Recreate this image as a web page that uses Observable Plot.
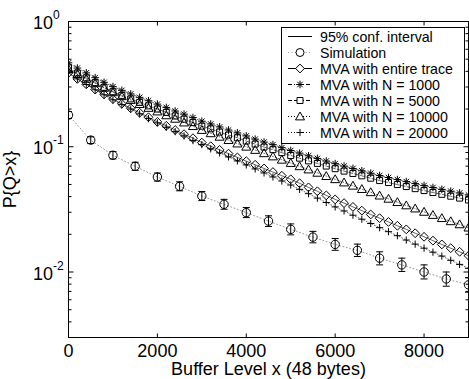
<!DOCTYPE html>
<html><head><meta charset="utf-8">
<script src="https://cdn.jsdelivr.net/npm/d3@7"></script>
<script src="https://cdn.jsdelivr.net/npm/@observablehq/plot@0.6"></script>
<style>
body{margin:0;background:#fff}
#chart{position:relative;width:469px;height:379px;overflow:hidden}
</style>
</head><body><div id="chart"></div>
<script>
// ---------- data ----------
const mvaX = [0,200,400,600,800,1000,1200,1400,1600,1800,2000,2200,2400,2600,2800,3000,3200,3400,3600,3800,4000,4200,4400,4600,4800,5000,5200,5400,5600,5800,6000,6200,6400,6600,6800,7000,7200,7400,7600,7800,8000,8200,8400,8600,8800,9000];
const mvaEntire = [0.389,0.348,0.315,0.286,0.262,0.240,0.220,0.203,0.187,0.172,0.158,0.147,0.136,0.126,0.117,0.108,0.101,0.0944,0.0881,0.0822,0.0767,0.0718,0.0671,0.0628,0.0587,0.0550,0.0511,0.0474,0.0441,0.0409,0.0380,0.0355,0.0331,0.0309,0.0288,0.0269,0.0251,0.0234,0.0219,0.0204,0.0191,0.0178,0.0166,0.0155,0.0145,0.0135];
const mvaN1000 = [0.468,0.425,0.389,0.356,0.327,0.302,0.282,0.264,0.248,0.233,0.219,0.206,0.193,0.182,0.171,0.160,0.152,0.144,0.136,0.129,0.122,0.115,0.109,0.104,0.0984,0.0933,0.0889,0.0847,0.0807,0.0769,0.0733,0.0701,0.0671,0.0643,0.0615,0.0589,0.0568,0.0547,0.0527,0.0508,0.0490,0.0473,0.0457,0.0442,0.0427,0.0412];
const mvaN5000 = [0.427,0.388,0.355,0.325,0.298,0.275,0.257,0.241,0.226,0.212,0.200,0.188,0.176,0.166,0.156,0.146,0.139,0.131,0.124,0.118,0.111,0.105,0.0994,0.0948,0.0897,0.0851,0.0811,0.0772,0.0736,0.0701,0.0668,0.0639,0.0612,0.0586,0.0561,0.0537,0.0518,0.0499,0.0481,0.0463,0.0447,0.0431,0.0417,0.0403,0.0389,0.0376];
const mvaN10000 = [0.417,0.380,0.348,0.321,0.295,0.272,0.253,0.236,0.219,0.204,0.191,0.178,0.167,0.156,0.146,0.136,0.128,0.120,0.113,0.106,0.100,0.0942,0.0887,0.0836,0.0787,0.0741,0.0698,0.0658,0.0619,0.0583,0.0550,0.0518,0.0488,0.0459,0.0433,0.0407,0.0384,0.0361,0.0340,0.0321,0.0302,0.0285,0.0269,0.0254,0.0240,0.0226];
const mvaN20000 = [0.389,0.348,0.314,0.285,0.260,0.237,0.217,0.200,0.183,0.168,0.155,0.143,0.132,0.122,0.112,0.104,0.0962,0.0893,0.0830,0.0771,0.0716,0.0665,0.0618,0.0574,0.0533,0.0495,0.0457,0.0422,0.0389,0.0359,0.0331,0.0307,0.0284,0.0264,0.0244,0.0226,0.0210,0.0195,0.0180,0.0167,0.0155,0.0144,0.0134,0.0124,0.0115,0.0107];

const simX = [0,500,1000,1500,2000,2500,3000,3500,4000,4500,5000,5500,6000,6500,7000,7500,8000,8500,9000];
const simValues = [0.179,0.113,0.0855,0.0698,0.0573,0.0483,0.0404,0.0347,0.0298,0.0255,0.0219,0.0190,0.0166,0.0149,0.0129,0.0114,0.0100,0.0088,0.0079];
const simLow  = [0.168,0.106,0.0799,0.0648,0.0532,0.0445,0.0372,0.0317,0.0272,0.0231,0.0198,0.0171,0.0149,0.0133,0.0114,0.0101,0.0088,0.0077,0.0069];
const simHigh = [0.191,0.120,0.0915,0.0752,0.0617,0.0525,0.0439,0.0380,0.0327,0.0281,0.0242,0.0211,0.0185,0.0167,0.0145,0.0129,0.0114,0.0100,0.0090];

const xTicks = [0,2000,4000,6000,8000];
const xTickLabels = ["0","2000","4000","6000","8000"];
const yTicks = [1,0.1,0.01];
const yTickExp = ["0","-1","-2"];
const yMinorTicks = [0.003,0.004,0.005,0.006,0.007,0.008,0.009,0.02,0.03,0.04,0.05,0.06,0.07,0.08,0.09,0.2,0.3,0.4,0.5,0.6,0.7,0.8,0.9];
const legendLabels = ["95% conf. interval","Simulation","MVA with entire trace","MVA with N = 1000","MVA with N = 5000","MVA with N = 10000","MVA with N = 20000"];
const xLabel = "Buffer Level x (48 bytes)";
const yLabel = "P{Q>x}";

// ---------- symbols ----------
const sym = fn => ({draw(c, size){ const r = Math.sqrt(size/Math.PI); fn(c, r); }});
const diamondSym = sym((c,r)=>{c.moveTo(0,-r);c.lineTo(r,0);c.lineTo(0,r);c.lineTo(-r,0);c.closePath();});
const squareSym = sym((c,r)=>{c.moveTo(-r,-r);c.lineTo(r,-r);c.lineTo(r,r);c.lineTo(-r,r);c.closePath();});
const triangleSym = sym((c,r)=>{c.moveTo(0,-r);c.lineTo(r,0.75*r);c.lineTo(-r,0.75*r);c.closePath();});
const plusSym = sym((c,r)=>{c.moveTo(-r,0);c.lineTo(r,0);c.moveTo(0,-r);c.lineTo(0,r);});
const starSym = sym((c,r)=>{const k=0.72*r;c.moveTo(-r,0);c.lineTo(r,0);c.moveTo(0,-r);c.lineTo(0,r);c.moveTo(-k,-k);c.lineTo(k,k);c.moveTo(-k,k);c.lineTo(k,-k);});
const circleSym = sym((c,r)=>{c.moveTo(r,0);c.arc(0,0,r,0,2*Math.PI);c.closePath();});
const capSym = sym((c,r)=>{c.moveTo(-r,0);c.lineTo(r,0);});

const seriesDefs = [
  {values: mvaEntire, symbol: diamondSym, r: 4.4, dash: null},
  {values: mvaN1000, symbol: starSym, r: 3.8, dash: "4,2,1,2"},
  {values: mvaN5000, symbol: squareSym, r: 3, dash: "4,2"},
  {values: mvaN10000, symbol: triangleSym, r: 4.5, dash: "1,2"},
  {values: mvaN20000, symbol: plusSym, r: 3.6, dash: "1,2"}
];

const sim = simX.map((x,i)=>({x, y: simValues[i], lo: simLow[i], hi: simHigh[i]}));

const marks = [
  Plot.line(sim, {x:"x", y:"y", stroke:"#999", strokeWidth:1, strokeDasharray:"1,2.5", clip:true}),
  Plot.ruleX(sim, {x:"x", y1:"lo", y2:"hi", stroke:"black", strokeWidth:1, clip:true}),
  Plot.dot(sim, {x:"x", y:"lo", symbol:capSym, r:3.5, stroke:"black", strokeWidth:1, clip:true}),
  Plot.dot(sim, {x:"x", y:"hi", symbol:capSym, r:3.5, stroke:"black", strokeWidth:1, clip:true}),
  Plot.dot(sim, {x:"x", y:"y", symbol:circleSym, r:4.2, stroke:"black", fill:"none", strokeWidth:1, clip:true})
];
for (const s of seriesDefs) {
  const d = mvaX.map((x,i)=>({x, y: s.values[i]}));
  marks.push(Plot.line(d, {x:"x", y:"y", stroke:"black", strokeWidth:0.6, strokeDasharray: s.dash, clip:true}));
  marks.push(Plot.dot(d, {x:"x", y:"y", symbol:s.symbol, r:s.r, stroke:"black", fill:"none", strokeWidth:1, clip:true}));
}
marks.push(Plot.frame({stroke:"black", strokeWidth:1}));

const chart = Plot.plot({
  width: 469, height: 379,
  marginLeft: 68, marginRight: 1, marginTop: 21, marginBottom: 42,
  x: {domain:[0,9000], axis:null},
  y: {type:"log", domain:[0.003,1], axis:null},
  style: {fontFamily:"'Liberation Sans', Arial, Helvetica, sans-serif", background:"white", color:"black", overflow:"visible"},
  marks
});
document.getElementById("chart").appendChild(chart);

// ---------- axes (ticks & labels through Plot scales) ----------
const sx = v => chart.scale("x").apply(v) + 0.5;
const sy = v => chart.scale("y").apply(v) + 0.5;
const svg = d3.select(chart);
const font = "'Liberation Sans', Arial, Helvetica, sans-serif";
const L = sx(0), R = sx(9000), T = sy(1), B = sy(0.003);
const ax = svg.append("g").attr("stroke","black").attr("stroke-width",1);
xTicks.forEach(v=>{
  ax.append("line").attr("x1",sx(v)).attr("x2",sx(v)).attr("y1",B).attr("y2",B-4);
  ax.append("line").attr("x1",sx(v)).attr("x2",sx(v)).attr("y1",T).attr("y2",T+4);
});
yTicks.forEach(v=>{
  ax.append("line").attr("x1",L).attr("x2",L+5).attr("y1",sy(v)).attr("y2",sy(v));
  ax.append("line").attr("x1",R).attr("x2",R-5).attr("y1",sy(v)).attr("y2",sy(v));
});
yMinorTicks.forEach(v=>{
  ax.append("line").attr("x1",L).attr("x2",L+3).attr("y1",sy(v)).attr("y2",sy(v));
  ax.append("line").attr("x1",R).attr("x2",R-3).attr("y1",sy(v)).attr("y2",sy(v));
});
const tx = svg.append("g").attr("font-family",font).attr("fill","black").attr("text-anchor","start");
xTicks.forEach((v,i)=>{
  tx.append("text").attr("x",sx(v)).attr("y",356.5).attr("text-anchor","middle").attr("font-size",18).text(xTickLabels[i]);
});
yTicks.forEach((v,i)=>{
  const t = tx.append("text").attr("x",33).attr("y",sy(v)+7.5).attr("font-size",18).attr("text-anchor","start");
  t.append("tspan").text("10");
  t.append("tspan").attr("font-size",12).attr("dy",-10).text(yTickExp[i]);
});
tx.append("text").attr("x",(L+R)/2).attr("y",375).attr("text-anchor","middle").attr("font-size",18).text(xLabel);
tx.append("text").attr("transform",`translate(16,${(T+B)/2}) rotate(-90)`).attr("text-anchor","middle").attr("font-size",18).text(yLabel);

// ---------- legend ----------
const lg = svg.append("g").attr("font-family",font).attr("text-anchor","start");
lg.append("rect").attr("x",281.5).attr("y",27.5).attr("width",183).attr("height",116).attr("fill","white").attr("stroke","black").attr("stroke-width",1);
const legendStyles = [
  {symbol:null, r:0, dash:null, color:"black"},
  {symbol:circleSym, r:4, dash:"1,2.5", color:"#999"},
  ...seriesDefs.map(s=>({symbol:s.symbol, r:s.r, dash:s.dash, color:"black"}))
];
legendLabels.forEach((lab,i)=>{
  const y = 36.5 + i*16;
  const st = legendStyles[i];
  lg.append("line").attr("x1",288).attr("x2",312).attr("y1",y).attr("y2",y)
    .attr("stroke",st.color).attr("stroke-width",1).attr("stroke-dasharray",st.dash);
  if (st.symbol) {
    lg.append("path").attr("transform",`translate(300,${y})`)
      .attr("d", d3.symbol(st.symbol, Math.PI*st.r*st.r)())
      .attr("fill","white").attr("stroke","black").attr("stroke-width",1);
  }
  lg.append("text").attr("x",320).attr("y",y+5).attr("font-size",14.2).attr("text-anchor","start").attr("fill","black").text(lab);
});
</script>
</body></html>
